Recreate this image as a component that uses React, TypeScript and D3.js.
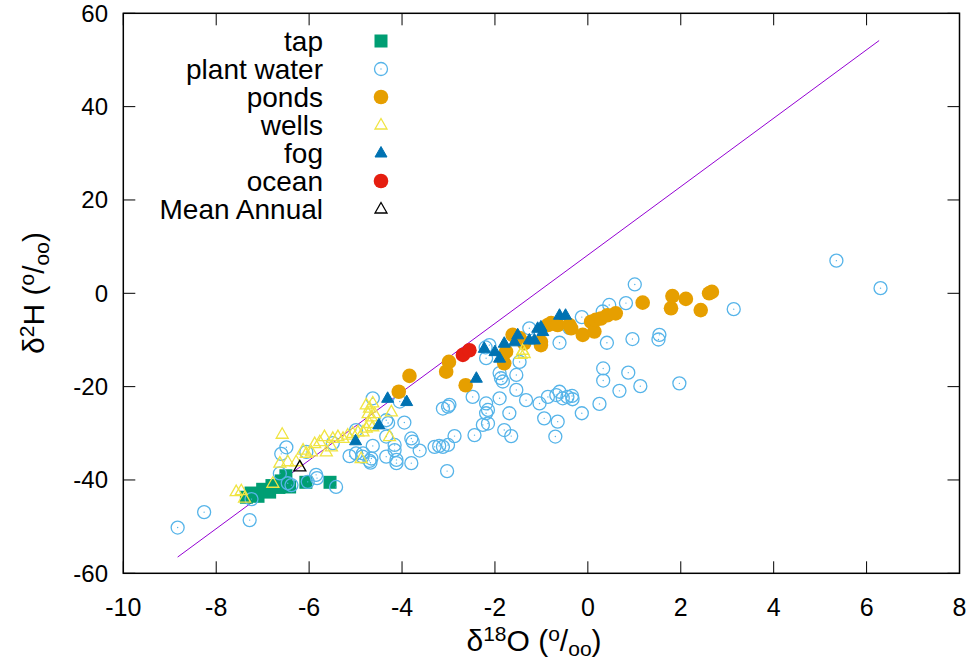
import React from "react";
import * as d3 from "d3";

const xTicks = [-10, -8, -6, -4, -2, 0, 2, 4, 6, 8];
const yTicks = [-60, -40, -20, 0, 20, 40, 60];

const tap: [number, number][] = [
  [-7.35, -43.7], [-7.25, -42.8], [-7.1, -43.5], [-7.0, -42.0], [-6.85, -42.6], [-6.8, -41.2],
  [-6.65, -41.6], [-6.6, -40.2], [-6.5, -39.1], [-6.42, -41.5], [-6.07, -40.5], [-5.55, -40.5],
];

const plantWater: [number, number][] = [
  [-8.83, -50.2], [-8.26, -46.9], [-7.28, -48.6], [-7.24, -44.1], [-6.49, -33.0], [-6.6, -34.4],
  [-6.63, -38.6], [-6.46, -40.7], [-6.38, -41.1], [-6.06, -34.0], [-6.03, -40.4], [-5.85, -38.9],
  [-5.83, -39.6], [-5.42, -41.5], [-5.49, -32.1], [-4.99, -29.3], [-5.13, -34.9], [-4.99, -34.3],
  [-4.84, -34.3], [-4.85, -35.0], [-4.7, -35.9], [-4.66, -35.4], [-4.68, -36.3], [-4.63, -32.7],
  [-4.63, -22.5], [-4.05, -23.2], [-4.34, -27.2], [-4.3, -27.8], [-3.95, -27.7], [-4.34, -30.7],
  [-4.16, -32.5], [-4.16, -33.6], [-4.34, -35.0], [-4.12, -35.7], [-4.12, -36.4], [-3.8, -31.1],
  [-3.77, -31.8], [-3.62, -33.7], [-3.8, -36.4], [-3.3, -32.9], [-3.2, -32.7], [-3.12, -32.9],
  [-3.01, -32.5], [-2.87, -30.6], [-3.03, -38.1], [-3.12, -24.7], [-3.01, -24.3], [-2.98, -23.9],
  [-2.48, -22.2], [-2.44, -30.4], [-2.26, -28.2], [-2.15, -27.9], [-1.8, -29.3], [-1.65, -30.6],
  [-2.12, -11.1], [-2.2, -11.6], [-2.19, -13.9], [-1.47, -14.7], [-0.61, -10.6], [-1.9, -17.1],
  [-1.87, -18.2], [-1.83, -18.9], [-1.54, -17.5], [-1.54, -20.7], [-1.9, -22.5], [-2.19, -23.6],
  [-2.15, -25.0], [-2.19, -25.7], [-1.69, -25.7], [-1.33, -22.9], [-1.04, -23.6], [-0.86, -22.2],
  [-0.68, -21.8], [-0.61, -21.1], [-0.54, -22.5], [-0.44, -22.2], [-0.34, -22.0], [-0.33, -22.7],
  [-0.94, -26.8], [-0.65, -27.5], [-0.7, -30.7], [-0.13, -25.7], [0.25, -23.7], [0.33, -16.1],
  [0.33, -18.7], [0.87, -17.0], [0.68, -20.9], [1.13, -19.9], [1.97, -19.3], [0.41, -10.6],
  [0.96, -9.8], [1.54, -8.9], [1.52, -9.9], [-0.13, -5.1], [-1.26, -7.5], [-0.4, -7.4],
  [0.46, -2.5], [0.82, -2.1], [0.32, -3.9], [1.01, 1.9], [3.14, -3.4], [5.35, 7.0], [6.3, 1.1],
];

const ponds: [number, number][] = [
  [-4.07, -21.1], [-3.84, -17.7], [-3.05, -16.8], [-2.99, -14.7], [-2.63, -19.7], [-1.8, -15.0],
  [-1.76, -12.5], [-1.62, -8.9], [-1.47, -9.6], [-1.37, -10.7], [-1.01, -10.4], [-1.01, -11.1],
  [-0.86, -6.8], [-0.79, -6.4], [-0.65, -6.8], [-0.4, -6.8], [-0.36, -7.5], [-0.11, -8.9],
  [0.07, -6.1], [0.14, -8.2], [0.17, -5.7], [0.28, -5.4], [0.42, -4.7], [0.6, -4.3],
  [1.18, -2.0], [1.79, -3.2], [1.82, -0.6], [2.11, -1.2], [2.43, -3.6], [2.61, 0.0], [2.67, 0.3],
];

const wells: [number, number][] = [
  [-7.57, -42.5], [-7.46, -42.3], [-7.39, -43.9], [-6.78, -40.7], [-6.58, -30.2], [-6.63, -36.4],
  [-6.46, -36.1], [-6.28, -36.1], [-6.13, -33.6], [-6.06, -34.3], [-5.95, -34.0], [-5.88, -32.2],
  [-5.77, -31.8], [-5.67, -30.7], [-5.63, -34.0], [-5.52, -32.9], [-5.49, -31.1], [-5.38, -30.7],
  [-5.27, -31.1], [-5.17, -30.4], [-5.06, -30.0], [-4.95, -29.7], [-4.84, -29.7], [-4.77, -28.9],
  [-4.7, -27.9], [-4.63, -28.6], [-4.88, -35.4], [-4.27, -30.7], [-4.23, -25.4], [-4.77, -23.9],
  [-4.7, -24.6], [-4.63, -23.5], [-4.73, -25.8], [-4.59, -25.8], [-4.66, -26.5],
  [-1.4, -12.2], [-1.37, -12.9], [-1.44, -13.1],
];

const fog: [number, number][] = [
  [-5.0, -31.6], [-4.5, -28.2], [-4.31, -22.5], [-3.9, -23.2], [-2.4, -18.2], [-2.23, -11.8],
  [-2.0, -12.5], [-1.9, -13.9], [-1.8, -10.7], [-1.58, -10.4], [-1.51, -8.9], [-1.26, -10.0],
  [-1.15, -10.0], [-1.08, -7.5], [-1.01, -7.2], [-0.97, -8.2], [-0.61, -4.7], [-0.48, -4.7],
];

const ocean: [number, number][] = [[-2.69, -13.2], [-2.55, -12.2]];
const meanAnnual: [number, number][] = [[-6.2, -37.2]];

const fitX = [-8.83, 6.27];
const fitSlope = 7.33;
const fitIntercept = 8.2;

const legendLabels = ["tap", "plant water", "ponds", "wells", "fog", "ocean", "Mean Annual"];

const W = 972, H = 665;
const FONT = "'Liberation Sans', Arial, Helvetica, sans-serif";

const C_TAP = "#009e73", C_PLANT = "#56b4e9", C_POND = "#e69f00", C_WELL = "#f0e442",
  C_FOG = "#0072b2", C_OCEAN = "#e51e10", C_MEAN = "#000000", C_LINE = "#9400d3";

const tri = (cx: number, cy: number) => {
  const s = 6;
  return `M${cx},${cy - 6.5}L${cx + s},${cy + 4}L${cx - s},${cy + 4}Z`;
};

function Marker({ kind, x, y }: { kind: string; x: number; y: number }) {
  switch (kind) {
    case "tap":
      return <rect x={x - 6.5} y={y - 6.5} width={13} height={13} fill={C_TAP} />;
    case "plant":
      return (
        <g>
          <circle cx={x} cy={y} r={6.5} fill="none" stroke={C_PLANT} strokeWidth={1.3} />
          <circle cx={x} cy={y} r={0.7} fill={C_PLANT} />
        </g>
      );
    case "pond":
      return <circle cx={x} cy={y} r={7.3} fill={C_POND} />;
    case "well":
      return <path d={tri(x, y)} fill="none" stroke={C_WELL} strokeWidth={1.3} />;
    case "fog":
      return <path d={tri(x, y)} fill={C_FOG} stroke={C_FOG} strokeWidth={1} />;
    case "ocean":
      return <circle cx={x} cy={y} r={7.3} fill={C_OCEAN} />;
    case "mean":
      return <path d={tri(x, y)} fill="none" stroke={C_MEAN} strokeWidth={1.3} />;
  }
  return null;
}

export default function App() {
  const x = d3.scaleLinear().domain([-10, 8]).range([123.3, 959.5]);
  const y = d3.scaleLinear().domain([-60, 60]).range([573.3, 13.3]);
  const L = x(-10), R = x(8), T = y(60), B = y(-60);

  const line = d3
    .line<number>()
    .x((d) => x(d))
    .y((d) => y(fitSlope * d + fitIntercept));

  const series: [string, [number, number][]][] = [
    ["tap", tap],
    ["plant", plantWater],
    ["pond", ponds],
    ["well", wells],
    ["fog", fog],
    ["ocean", ocean],
    ["mean", meanAnnual],
  ];
  const kinds = ["tap", "plant", "pond", "well", "fog", "ocean", "mean"];
  const tickLen = 12;

  return (
    <svg
      width={W}
      height={H}
      style={{ position: "absolute", left: 0, top: 0, background: "#fff" }}
      fontFamily={FONT}
    >
      <rect x={0} y={0} width={W} height={H} fill="#fff" />
      {xTicks.map((t) => (
        <g key={"xt" + t}>
          <line x1={x(t)} x2={x(t)} y1={B} y2={B - tickLen} stroke="#000" strokeWidth={1} />
          <line x1={x(t)} x2={x(t)} y1={T} y2={T + tickLen} stroke="#000" strokeWidth={1} />
          <text x={x(t)} y={616} fontSize={25} textAnchor="middle" fill="#000">
            {t}
          </text>
        </g>
      ))}
      {yTicks.map((t) => (
        <g key={"yt" + t}>
          <line x1={L} x2={L + tickLen} y1={y(t)} y2={y(t)} stroke="#000" strokeWidth={1} />
          <line x1={R} x2={R - tickLen} y1={y(t)} y2={y(t)} stroke="#000" strokeWidth={1} />
          <text x={108} y={y(t) + 8.5} fontSize={24} textAnchor="end" fill="#000">
            {t}
          </text>
        </g>
      ))}

      <path d={line(fitX) || ""} fill="none" stroke={C_LINE} strokeWidth={1} />

      {series.map(([k, data]) =>
        data.map((d, i) => <Marker key={k + i} kind={k} x={x(d[0])} y={y(d[1])} />)
      )}

      {legendLabels.map((lab, i) => {
        const ly = 41 + i * 28;
        return (
          <g key={lab}>
            <text x={323} y={ly + 9.5} fontSize={28} textAnchor="end" fill="#000">
              {lab}
            </text>
            <Marker kind={kinds[i]} x={381} y={ly} />
          </g>
        );
      })}

      <rect x={L} y={T} width={R - L} height={B - T} fill="none" stroke="#000" strokeWidth={1.5} />

      <text x={534} y={651} fontSize={30} textAnchor="middle" fill="#000">
        δ<tspan dy={-10} fontSize={21}>18</tspan>
        <tspan dy={10}>O (</tspan>
        <tspan dy={-10} fontSize={21}>o</tspan>
        <tspan dy={10}>/</tspan>
        <tspan dy={5} fontSize={21}>oo</tspan>
        <tspan dy={-5}>)</tspan>
      </text>
      <text
        transform={`translate(44,293) rotate(-90)`}
        fontSize={30}
        textAnchor="middle"
        fill="#000"
      >
        δ<tspan dy={-10} fontSize={21}>2</tspan>
        <tspan dy={10}>H (</tspan>
        <tspan dy={-10} fontSize={21}>o</tspan>
        <tspan dy={10}>/</tspan>
        <tspan dy={5} fontSize={21}>oo</tspan>
        <tspan dy={-5}>)</tspan>
      </text>
    </svg>
  );
}
